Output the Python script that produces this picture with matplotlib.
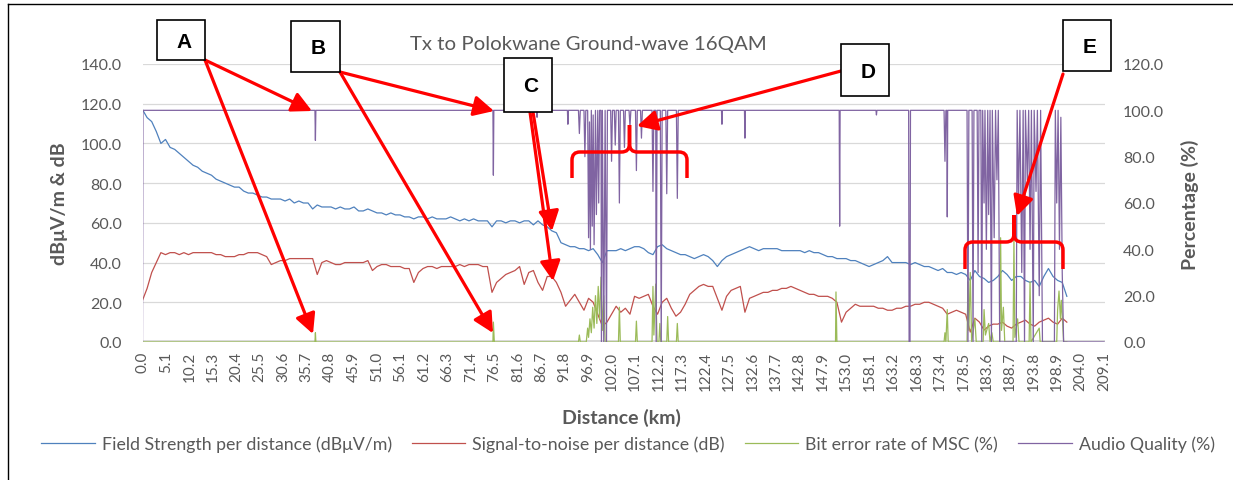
"""Tx to Polokwane ground-wave 16QAM drive test chart"""
import numpy as np
import matplotlib
matplotlib.use('Agg')
from matplotlib import pyplot as plt
from matplotlib.patches import FancyArrowPatch, PathPatch, Rectangle
from matplotlib.path import Path
from matplotlib.lines import Line2D

plt.rcParams['font.family'] = ['Lato', 'DejaVu Sans']

# ---- data ----
dist_km = np.arange(0, 202)   # 1 km sampling of the two dB series

field_strength = [
    117, 113, 111, 106, 100, 102, 98, 97, 95, 93, 91, 89, 88, 86, 85, 84, 82, 81, 80, 79,
    78, 78, 76, 75, 75, 74, 73, 73, 72, 72, 72, 71, 72, 70, 71, 70, 70, 67, 69, 68,
    68, 68, 67, 68, 67, 67, 68, 66, 66, 67, 66, 65, 65, 64, 65, 64, 64, 63, 63, 62,
    63, 63, 62, 63, 62, 62, 62, 63, 62, 61, 62, 61, 62, 61, 61, 61, 58, 61, 61, 60,
    61, 61, 60, 61, 61, 59, 61, 59, 58, 56, 55, 50, 49, 48, 48, 47, 47, 46, 47, 44,
    40, 46, 46, 46, 47, 46, 47, 48, 48, 47, 45, 44, 48, 49, 47, 46, 45, 44, 44, 43,
    42, 43, 44, 43, 41, 38, 41, 43, 44, 45, 46, 47, 48, 47, 46, 47, 47, 47, 47, 46,
    46, 46, 46, 46, 45, 46, 45, 45, 44, 43, 43, 42, 42, 42, 41, 41, 40, 39, 38, 39,
    40, 41, 43, 40, 40, 40, 40, 39, 40, 39, 38, 38, 37, 36, 37, 35, 35, 34, 35, 34,
    31, 36, 33, 32, 30, 31, 33, 36, 34, 31, 33, 33, 31, 30, 31, 28, 33, 37, 33, 31,
    30, 23]

snr = [
    21, 27, 35, 40, 45, 44, 45, 45, 44, 45, 44, 45, 45, 45, 45, 45, 44, 44, 43, 43,
    43, 44, 44, 45, 45, 45, 44, 43, 39, 40, 41, 41, 42, 42, 42, 42, 42, 42, 34, 40,
    41, 40, 39, 39, 40, 40, 40, 40, 40, 41, 36, 38, 39, 39, 38, 38, 38, 37, 37, 30,
    35, 37, 38, 38, 37, 38, 38, 38, 38, 39, 38, 39, 39, 39, 38, 38, 25, 30, 32, 34,
    35, 36, 38, 29, 35, 36, 30, 26, 33, 33, 30, 25, 18, 21, 24, 20, 16, 22, 20, 14,
    8, 10, 14, 18, 15, 17, 14, 23, 22, 23, 24, 18, 14, 20, 22, 17, 13, 15, 19, 24,
    26, 28, 29, 28, 28, 22, 16, 23, 26, 27, 28, 15, 22, 23, 24, 25, 25, 26, 26, 27,
    27, 28, 27, 26, 25, 24, 24, 23, 23, 23, 22, 20, 10, 15, 17, 19, 18, 18, 18, 18,
    17, 17, 16, 16, 17, 17, 18, 18, 19, 19, 20, 20, 19, 18, 17, 14, 15, 16, 15, 14,
    5, 12, 10, 6, 8, 9, 9, 10, 8, 7, 9, 10, 11, 9, 8, 10, 11, 12, 10, 9,
    12, 10]

ber_km = [0, 37.5, 37.6, 37.7, 76.2, 76.3, 76.5,
          94.8, 95.0, 95.2, 96.5, 96.8, 97.0, 97.3, 97.6, 97.9, 98.2, 98.5, 98.8, 99.1,
          99.4, 99.7, 100.0, 100.3, 100.6,
          103.5, 103.7, 103.9, 107.2, 107.4, 107.6, 110.8, 111.0, 111.2, 111.6, 111.9,
          112.3, 112.5, 112.7, 114.0, 114.2, 114.4, 116.1, 116.3, 116.5,
          150.7, 150.8, 151.0, 174.3, 174.5, 174.7, 175.0, 175.2,
          179.3, 179.5, 179.7, 180.0, 180.3, 181.0, 181.3, 182.8, 183.0, 183.3, 184.0,
          184.3, 184.7, 185.0, 186.4, 186.6, 186.8, 187.2, 187.5,
          189.3, 189.5, 189.7, 190.3, 190.6, 192.8, 193.0, 193.2, 195.0, 195.2,
          198.8, 199.0, 199.3, 199.6, 199.8, 200.1, 200.3, 201.0]
ber_pct = [0, 0, 4, 0, 0, 8.6, 0,
           0, 3, 0, 0, 6, 2, 10, 4, 15, 6, 20, 8, 24,
           10, 28, 5, 20, 0,
           0, 15, 0, 0, 9, 0, 0, 24, 3, 25, 0,
           0, 8, 0, 0, 11, 0, 0, 8, 0,
           0, 21.6, 0, 0, 4, 0, 14, 0,
           0, 26, 5, 30, 0, 10, 0, 0, 14, 3, 8,
           0, 4, 0, 0, 45, 5, 15, 0,
           0, 44, 2, 10, 0, 0, 26, 0, 6, 0,
           0, 14, 22, 10, 18, 8, 0, 0]

audio_km = [0, 0.1, 37.5, 37.6, 37.7, 76.2, 76.3, 76.4, 85.7, 85.8, 85.9,
            92.4, 92.5, 92.6, 94.8, 95.0, 95.2, 96.0, 96.2, 96.4,
            96.8, 97.0, 97.2, 97.4, 97.6, 97.8, 98.0, 98.2, 98.5, 98.7, 99.0, 99.2, 99.4,
            99.7, 99.8, 100.0, 100.3, 100.6, 100.9, 101.1,
            101.8, 102.0, 102.2, 102.6, 102.8, 103.0, 103.5, 103.7, 103.9,
            104.6, 104.8, 105.0, 105.8, 106.0, 106.2, 107.2, 107.4, 107.6,
            108.3, 108.5, 108.7, 110.8, 111.0, 111.2,
            111.6, 111.7, 111.9, 112.6, 112.8, 113.0,
            113.8, 114.0, 114.2, 116.1, 116.3, 116.5,
            125.9, 126.0, 126.1, 130.9, 131.0, 131.1, 151.5, 151.6, 151.7,
            159.5, 159.6, 159.7, 166.6, 166.7, 166.9, 167.0,
            174.3, 174.5, 174.7, 174.9, 175.0, 175.1,
            179.3, 179.5, 179.7, 180.4, 180.6, 180.8, 181.5, 181.7, 181.9,
            182.3, 182.5, 182.7, 183.0, 183.2, 183.5, 183.8, 184.0, 184.3, 184.6, 184.8,
            185.2, 185.5, 185.8, 186.1, 186.4, 190.0,
            190.2, 190.5, 190.8, 191.2, 191.5, 191.8, 192.0, 192.4, 192.7, 193.0, 193.3,
            193.7, 193.9, 194.3, 194.6, 195.0, 195.3, 195.7, 196.0, 198.3,
            198.5, 198.8, 199.1, 199.4, 199.7, 200.0, 200.3, 209.1]
audio_pct = [0, 100, 100, 87, 100, 100, 72, 100, 100, 97, 100,
             100, 94, 100, 100, 90, 100, 100, 80, 100,
             100, 45, 95, 40, 100, 50, 98, 42, 100, 55, 100, 60, 100,
             100, 0, 100, 0, 100, 0, 100,
             100, 78, 100, 100, 85, 100, 100, 60, 100,
             100, 84, 100, 100, 93, 100, 100, 74, 100,
             100, 88, 100, 100, 65, 100,
             100, 0, 100, 100, 0, 100,
             100, 64, 100, 100, 62, 100,
             100, 94, 100, 100, 88, 100, 100, 50, 100,
             100, 98, 100, 100, 0, 0, 100,
             100, 78, 100, 100, 54, 100,
             100, 0, 100, 100, 0, 100, 100, 30, 100,
             100, 0, 100, 60, 100, 40, 100, 55, 100, 0, 100,
             45, 100, 70, 100, 0, 0,
             100, 60, 100, 30, 100, 0, 100, 70, 100, 40, 100,
             0, 100, 65, 100, 20, 100, 0, 0, 0,
             100, 60, 100, 40, 97, 30, 0, 0]

xtick_labels = ['0.0', '5.1', '10.2', '15.3', '20.4', '25.5', '30.6', '35.7', '40.8', '45.9',
                '51.0', '56.1', '61.2', '66.3', '71.4', '76.5', '81.6', '86.7', '91.8', '96.9',
                '102.0', '107.1', '112.2', '117.3', '122.4', '127.5', '132.6', '137.7', '142.8',
                '147.9', '153.0', '158.1', '163.2', '168.3', '173.4', '178.5', '183.6', '188.7',
                '193.8', '198.9', '204.0', '209.1']
left_ticks = [0, 20, 40, 60, 80, 100, 120, 140]
right_ticks = [0, 20, 40, 60, 80, 100, 120]

series_names = ['Field Strength per distance (dBμV/m)', 'Signal-to-noise per distance (dB)',
                'Bit error rate of MSC (%)', 'Audio Quality (%)']
colors = ['#4F81BD', '#C0504D', '#9BBB59', '#8064A2']
grey = '#595959'

W, H = 1233, 481
def fp(x, y):
    # pixel position -> figure fraction
    return (x / W, 1 - y / H)

fig = plt.figure(figsize=(W / 100, H / 100), dpi=100)
ax = fig.add_axes([142.5 / W, 1 - 343 / H, (1105 - 142.5) / W, (343 - 65) / H])
ax2 = ax.twinx()

l1, = ax.plot(dist_km, field_strength, color=colors[0], lw=0.9)
l2, = ax.plot(dist_km, snr, color=colors[1], lw=0.9)
l3, = ax2.plot(ber_km, ber_pct, color=colors[2], lw=0.9)
l4, = ax2.plot(audio_km, audio_pct, color=colors[3], lw=0.9)

ax.set_xlim(0, 209.3)
ax.set_ylim(0, 140)
ax2.set_ylim(0, 120)
ax.set_xticks([float(s) for s in xtick_labels])
ax.set_xticklabels(xtick_labels, rotation=90)
ax.set_yticks(left_ticks)
ax.set_yticklabels(['%.1f' % v for v in left_ticks])
ax2.set_yticks(right_ticks)
ax2.set_yticklabels(['%.1f' % v for v in right_ticks])

ax.grid(axis='y', color='#D9D9D9', lw=0.9)
ax.set_axisbelow(True)
for a in (ax, ax2):
    for s in ('top', 'left', 'right', 'bottom'):
        a.spines[s].set_visible(False)
ax.axhline(0, color='#D9D9D9', lw=3.6, zorder=0.5)
ax.tick_params(axis='x', length=0, pad=6.5, labelsize=11, labelcolor=grey)
ax.tick_params(axis='y', length=0, pad=15, labelsize=11.5, labelcolor=grey)
ax2.tick_params(axis='y', length=0, pad=13, labelsize=11.5, labelcolor=grey)

fig.text(*fp(588, 45), 'Tx to Polokwane Ground-wave 16QAM', ha='center', va='center',
         color=grey, fontsize=14.7)
fig.text(*fp(59, 204), 'dBμV/m & dB', rotation=90, ha='center', va='center',
         color=grey, fontsize=14, fontweight='bold')
fig.text(*fp(1190, 205), 'Percentage (%)', rotation=90, ha='center', va='center',
         color=grey, fontsize=14, fontweight='bold')
fig.text(*fp(621, 418), 'Distance (km)', ha='center', va='center',
         color=grey, fontsize=14, fontweight='bold')

fig.legend([l1, l2, l3, l4], series_names, loc='center', bbox_to_anchor=fp(628, 445),
           ncol=4, frameon=False, fontsize=12.8, labelcolor=grey, handlelength=3.0,
           handletextpad=0.38, columnspacing=1.15)

# outer frame (left and top edges visible)
fig.add_artist(Line2D([8 / W, 8 / W], [0, 1 - 5 / H], transform=fig.transFigure, color='black', lw=1))
fig.add_artist(Line2D([8 / W, 1], [1 - 5 / H, 1 - 5 / H], transform=fig.transFigure, color='black', lw=1))

# call-out boxes
boxes = {'A': (157, 21, 205, 61), 'B': (291, 22, 340, 73), 'C': (504, 59, 552, 113),
         'D': (841, 45, 889, 97), 'E': (1063, 21, 1111, 72)}
for letter, (x0, y0, x1, y1) in boxes.items():
    fig.add_artist(Rectangle(fp(x0, y1), (x1 - x0) / W, (y1 - y0) / H, transform=fig.transFigure,
                             facecolor='white', edgecolor='black', lw=1.2, zorder=5))
    fig.text(*fp((x0 + x1) / 2 + 3, (y0 + y1) / 2 + 1), letter, ha='center', va='center',
             family='Liberation Sans', fontweight='bold', fontsize=15, zorder=6)

arrows = [((205, 61), (312, 112)), ((205, 61), (313, 335)),
          ((340, 73), (494, 112)), ((340, 73), (493, 334)),
          ((533, 113), (552, 232)), ((530, 113), (553, 282)),
          ((841, 72), (637, 127)), ((1063, 75), (1017, 217))]
for a, b in arrows:
    fig.add_artist(FancyArrowPatch(fp(*a), fp(*b), transform=fig.transFigure,
                                   arrowstyle='-|>,head_length=0.55,head_width=0.28',
                                   mutation_scale=22, lw=2.3, color='red',
                                   shrinkA=0, shrinkB=0, zorder=4))

def brace(xl, xr, ybot, ybar, ypeak, r=8):
    xc = (xl + xr) / 2
    pts = [(xl, ybot), (xl, ybar + r), (xl, ybar), (xl + r, ybar), (xc - r, ybar),
           (xc, ybar), (xc, ybar - r), (xc, ypeak),
           (xc, ypeak), (xc, ybar - r), (xc, ybar), (xc + r, ybar), (xr - r, ybar),
           (xr, ybar), (xr, ybar + r), (xr, ybot)]
    codes = [Path.MOVETO, Path.LINETO, Path.CURVE3, Path.CURVE3, Path.LINETO,
             Path.CURVE3, Path.CURVE3, Path.LINETO,
             Path.MOVETO, Path.LINETO, Path.CURVE3, Path.CURVE3, Path.LINETO,
             Path.CURVE3, Path.CURVE3, Path.LINETO]
    return Path([fp(*p) for p in pts], codes)

for b in (brace(572, 687, 179, 153, 126), brace(965, 1063, 270, 243, 216)):
    fig.add_artist(PathPatch(b, transform=fig.transFigure, fill=False,
                             edgecolor='red', lw=2.5, zorder=4))

fig.savefig('out.png', dpi=100)
